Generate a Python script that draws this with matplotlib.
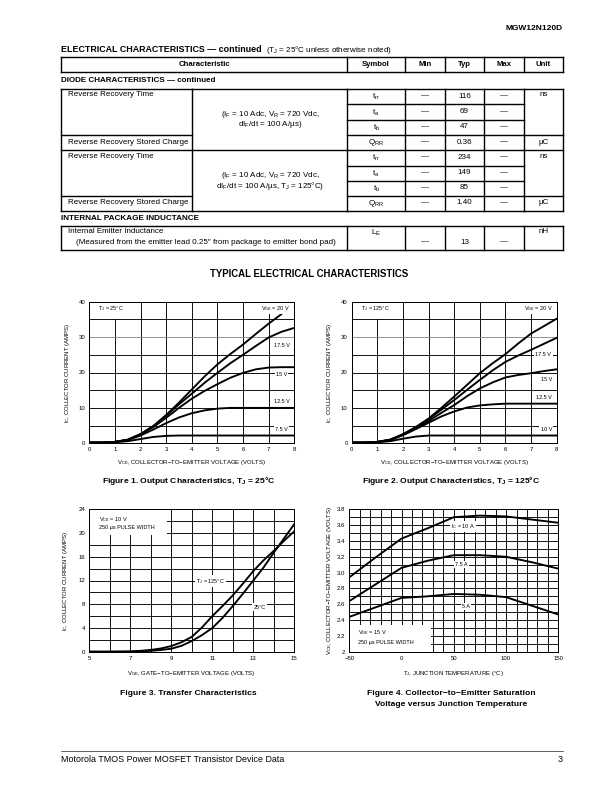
import matplotlib

matplotlib.use("Agg")
import matplotlib.pyplot as plt
from matplotlib import font_manager
from matplotlib.patches import Rectangle

# ---------------- data ----------------
# table
sym_rows = [r"t$_\mathregular{rr}$", r"t$_\mathregular{a}$", r"t$_\mathregular{b}$", r"Q$_\mathregular{RR}$",
            r"t$_\mathregular{rr}$", r"t$_\mathregular{a}$", r"t$_\mathregular{b}$", r"Q$_\mathregular{RR}$"]
typ_rows = ["116", "69", "47", "0.36", "234", "149", "85", "1.40"]

# Figure 1: output characteristics, TJ = 25C
vce = [0, 0.5, 1, 1.5, 2, 2.5, 3, 3.5, 4, 4.5, 5, 5.5, 6, 6.5, 7, 7.5, 8]
ic1_20 = [0.2, 0.2, 0.4, 1.0, 2.6, 4.9, 8.0, 11.5, 15.2, 18.9, 22.3, 25.2, 27.9, 30.9, 33.8, 36.5]
ic1_175 = [0.2, 0.2, 0.4, 1.0, 2.6, 4.8, 7.8, 11.0, 14.0, 17.1, 19.9, 22.6, 25.0, 27.5, 29.9, 31.5, 32.6]
ic1_15 = [0.2, 0.2, 0.4, 1.0, 2.5, 4.6, 7.2, 10.0, 12.6, 14.8, 16.7, 18.5, 19.9, 20.9, 21.4, 21.5, 21.5]
ic1_125 = [0.2, 0.2, 0.4, 0.9, 2.2, 3.9, 5.7, 7.3, 8.5, 9.3, 9.8, 10.0, 10.0, 10.0, 10.0, 10.0, 10.0]
ic1_75 = [0.2, 0.2, 0.3, 0.6, 1.2, 1.8, 2.1, 2.2, 2.2, 2.2, 2.2, 2.2, 2.2, 2.2, 2.2, 2.2, 2.2]

# Figure 2: output characteristics, TJ = 125C
ic2_20 = [0.2, 0.2, 0.4, 1.0, 2.6, 4.6, 7.0, 10.0, 13.2, 16.5, 19.8, 22.6, 25.2, 28.2, 31.0, 33.1, 35.2]
ic2_175 = [0.2, 0.2, 0.4, 1.0, 2.5, 4.4, 6.8, 9.5, 12.2, 15.1, 17.9, 20.6, 23.0, 24.8, 26.4, 28.1, 29.8]
ic2_15 = [0.2, 0.2, 0.4, 1.0, 2.4, 4.2, 6.3, 8.6, 10.8, 13.3, 15.5, 17.2, 18.6, 19.3, 19.8, 20.4, 20.9]
ic2_125 = [0.2, 0.2, 0.4, 0.9, 2.3, 4.0, 5.8, 7.6, 9.0, 10.1, 10.7, 11.0, 11.2, 11.2, 11.2, 11.2, 11.2]
ic2_10 = [0.2, 0.2, 0.3, 0.6, 1.3, 1.9, 2.2, 2.2, 2.2, 2.2, 2.2, 2.2, 2.2, 2.2, 2.2, 2.2, 2.2]

# Figure 3: transfer characteristics
vge = [5, 6, 7, 7.5, 8, 8.5, 9, 9.5, 10, 10.5, 11, 11.5, 12, 12.5, 13, 13.5, 14, 14.5, 15]
ic3_125 = [0, 0, 0.05, 0.15, 0.3, 0.55, 0.95, 1.6, 2.5, 4.1, 6.0, 7.7, 9.5, 11.5, 13.6, 15.4, 17.0, 18.7, 20.3]
ic3_25 = [0, 0, 0, 0.05, 0.15, 0.3, 0.5, 1.0, 1.8, 2.8, 4.0, 5.7, 7.7, 9.8, 12.0, 14.2, 16.7, 19.1, 21.5]

# Figure 4: VCE(sat) vs junction temperature
tj = [-50, -25, 0, 25, 50, 75, 100, 125, 150]
vsat_10 = [2.94, 3.19, 3.43, 3.56, 3.70, 3.72, 3.71, 3.67, 3.63]
vsat_75 = [2.64, 2.85, 3.06, 3.15, 3.22, 3.22, 3.20, 3.13, 3.05]
vsat_5 = [2.44, 2.56, 2.68, 2.70, 2.73, 2.72, 2.69, 2.58, 2.47]

# ---------------- style ----------------
plt.rcParams.update({
    "font.family": ["Liberation Sans", "DejaVu Sans"],
    "mathtext.fontset": "custom",
    "mathtext.rm": "Liberation Sans",
    "mathtext.it": "Liberation Sans",
    "mathtext.bf": "Liberation Sans:bold",
    "axes.linewidth": 1.0,
})
names = {f.name for f in font_manager.fontManager.ttflist}
NARROW = "Liberation Sans Narrow" if "Liberation Sans Narrow" in names else "Liberation Sans"

W, H = 612, 792
fig = plt.figure(figsize=(W / 72, H / 72), dpi=72)
page = fig.add_axes([0, 0, 1, 1])
page.set_xlim(0, W)
page.set_ylim(H, 0)
page.axis("off")
renderer = fig.canvas.get_renderer()


def ptext(x, y, s, size=5.5, width=None, **kw):
    kw.setdefault("va", "center")
    t = page.text(x, y, s, fontsize=size, **kw)
    if width is not None:
        # scale the font so the string spans the measured width
        bb = t.get_window_extent(renderer)
        t.set_fontsize(size * width / bb.width)
    return t


def hline(y, x0, x1, lw=1.4):
    page.plot([x0, x1], [y, y], color="k", lw=lw, solid_capstyle="projecting")


def vline(x, y0, y1, lw=1.4):
    page.plot([x, x], [y0, y1], color="k", lw=lw, solid_capstyle="projecting")


# ---------------- header / table ----------------
L, R = 61, 563
frac = [0.2617, 0.5707, 0.6848, 0.7648, 0.8424, 0.9216]
xc, xs, xmin, xtyp, xmax, xu = [L + f * (R - L) for f in frac]
cols = [L, xs, xmin, xtyp, xmax, xu, R]

ptext(R, 28, "MGW12N120D", size=9, width=57, ha="right", weight="bold", family="Liberation Sans")
ptext(L, 50, "ELECTRICAL CHARACTERISTICS — continued", size=9, width=201, weight="bold", family=NARROW)
ptext(265.5, 50.5, r"(T$_\mathregular{J}$ = 25°C unless otherwise noted)", size=6, width=127)

# header row
ht, hb = 57, 72
for x in cols:
    vline(x, ht, hb)
hline(ht, L, R)
hline(hb, L, R)
hdr = ptext((L + xs) / 2, (ht + hb) / 2, "Characteristic", size=7, width=52, ha="center", weight="bold",
            family=NARROW)
hsize = hdr.get_fontsize()
for (a, b), s in zip(zip(cols[1:-1], cols[2:]), ["Symbol", "Min", "Typ", "Max", "Unit"]):
    ptext((a + b) / 2, (ht + hb) / 2, s, size=hsize, ha="center", weight="bold", family=NARROW)

ptext(L, 80, "DIODE CHARACTERISTICS — continued", size=8, width=155, weight="bold", family=NARROW)

rows = [89, 104.3, 119.6, 135, 150, 165.5, 180.8, 196, 210.5]
top, bot = rows[0], rows[-1]
for x in [L, xc, xs, xmin, xtyp, xmax, xu, R]:
    vline(x, top, bot)
for y in rows:
    hline(y, xs, xu)
for y in [rows[0], rows[3], rows[4], rows[7], rows[8]]:
    hline(y, L, xc)
    hline(y, xu, R)
for y in [rows[0], rows[4], rows[8]]:
    hline(y, xc, xs)

ref = ptext(L + 6.5, rows[0] + 6, "Reverse Recovery Time", size=6, width=85)
bs = ref.get_fontsize()
ptext(L + 6.5, rows[3] + 7, "Reverse Recovery Stored Charge", size=bs)
ptext(L + 6.5, rows[4] + 6, "Reverse Recovery Time", size=bs)
ptext(L + 6.5, rows[7] + 7, "Reverse Recovery Stored Charge", size=bs)
for g in (0, 4):
    ptext((xu + R) / 2, rows[g] + 6, "ns", size=bs, ha="center")
    ptext((xu + R) / 2, rows[g + 3] + 7, "µC", size=bs, ha="center")

for i in range(8):
    yc = (rows[i] + rows[i + 1]) / 2 + 0.5
    ptext((xs + xmin) / 2, yc, sym_rows[i], size=bs, ha="center")
    ptext((xmin + xtyp) / 2, yc - 1, "—", size=bs, ha="center")
    ptext((xtyp + xmax) / 2, yc - 1, typ_rows[i], size=bs, ha="center")
    ptext((xmax + xu) / 2, yc - 1, "—", size=bs, ha="center")

cmid = (xc + xs) / 2
yc1 = (rows[0] + rows[4]) / 2
ptext(cmid, yc1 - 5, r"(I$_\mathregular{F}$ = 10 Adc, V$_\mathregular{R}$ = 720 Vdc,", size=bs, ha="center")
ptext(cmid, yc1 + 5.5, r"dI$_\mathregular{F}$/dt = 100 A/µs)", size=bs, ha="center")
yc2 = (rows[4] + rows[8]) / 2
ptext(cmid, yc2 - 5, r"(I$_\mathregular{F}$ = 10 Adc, V$_\mathregular{R}$ = 720 Vdc,", size=bs, ha="center")
ptext(cmid, yc2 + 5.5, r"dI$_\mathregular{F}$/dt = 100 A/µs, T$_\mathregular{J}$ = 125°C)", size=bs, ha="center")

ptext(L, 218, "INTERNAL PACKAGE INDUCTANCE", size=8, width=137, weight="bold", family=NARROW)
it, ib = 226, 250
for x in [L, xs, xmin, xtyp, xmax, xu, R]:
    vline(x, it, ib)
hline(it, L, R)
hline(ib, L, R)
ptext(L + 6.5, 231.5, "Internal Emitter Inductance", size=bs)
ptext(L + 14.5, 242, "(Measured from the emitter lead 0.25″ from package to emitter bond pad)", size=bs,
      family=["Liberation Sans", "DejaVu Sans"])
ptext((xs + xmin) / 2, 233, r"L$_\mathregular{E}$", size=bs, ha="center")
ptext((xmin + xtyp) / 2, 242, "—", size=bs, ha="center")
ptext((xtyp + xmax) / 2, 242, "13", size=bs, ha="center")
ptext((xmax + xu) / 2, 242, "—", size=bs, ha="center")
ptext((xu + R) / 2, 231.5, "nH", size=bs, ha="center")

ptext(309, 274, "TYPICAL ELECTRICAL CHARACTERISTICS", size=9.5, width=200, ha="center", weight="bold",
      family="Liberation Sans")

# footer
hline(751, L, R, lw=0.6)
foot = ptext(L, 760, "Motorola TMOS Power MOSFET Transistor Device Data", size=8, width=222)
ptext(R, 760, "3", size=foot.get_fontsize(), ha="right")


# ---------------- charts ----------------
def px_axes(l, t, r, b):
    return fig.add_axes([l / W, 1 - b / H, (r - l) / W, (b - t) / H])


def setup(ax, xlim, ylim, xgrid, ygrid, xticks, xlabels, yticks, ylabels, gray=()):
    ax.set_xlim(*xlim)
    ax.set_ylim(*ylim)
    for x in xgrid:
        ax.axvline(x, color="k", lw=0.9, zorder=1)
    for y in ygrid:
        ax.axhline(y, color="#8a8a8a" if y in gray else "k", lw=0.9, zorder=1)
    ax.set_xticks(xticks)
    ax.set_xticklabels(xlabels)
    ax.set_yticks(yticks)
    ax.set_yticklabels(ylabels)
    ax.tick_params(length=0, pad=4, labelsize=6)
    for sp in ax.spines.values():
        sp.set_zorder(6)
        sp.set_linewidth(1.0)


def mask(ax, x0, y0, x1, y1):
    ax.add_patch(Rectangle((x0, y0), x1 - x0, y1 - y0, facecolor="white", edgecolor="none", zorder=2))


def lab(ax, x, y, s, **kw):
    kw.setdefault("ha", "center")
    ax.text(x, y, s, fontsize=5.5, va="center", zorder=5,
            bbox=dict(facecolor="white", edgecolor="none", pad=1.2), **kw)


CURVE = dict(color="k", lw=1.9, zorder=3, solid_joinstyle="round")
AXFS = 6

# Figure 1
ax1 = px_axes(89.3, 301.7, 294.3, 443.3)
setup(ax1, (0, 8), (0, 40), range(1, 8), range(5, 40, 5), range(9), [str(i) for i in range(9)],
      range(0, 41, 10), [str(i) for i in range(0, 41, 10)], gray=(30,))
mask(ax1, 0, 35, 2, 40)
ax1.plot(vce[:len(ic1_20)], ic1_20, **CURVE)
ax1.plot(vce, ic1_175, **CURVE)
ax1.plot(vce, ic1_15, **CURVE)
ax1.plot(vce, ic1_125, **CURVE)
ax1.plot(vce, ic1_75, **CURVE)
lab(ax1, 0.35, 38.1, r"T$_\mathregular{J}$ = 25°C", ha="left")
lab(ax1, 7.25, 38.1, r"V$_\mathregular{GE}$ = 20 V")
lab(ax1, 7.5, 27.5, "17.5 V")
lab(ax1, 7.5, 19.5, "15 V")
lab(ax1, 7.5, 11.9, "12.5 V")
lab(ax1, 7.5, 3.95, "7.5 V")
ax1.set_xlabel(r"V$_\mathregular{CE}$, COLLECTOR−TO−EMITTER VOLTAGE (VOLTS)", fontsize=AXFS, labelpad=6)
ax1.set_ylabel(r"I$_\mathregular{C}$, COLLECTOR CURRENT (AMPS)", fontsize=AXFS, labelpad=7)
cap = ptext(188.5, 481, r"Figure 1. Output Characteristics, T$_\mathregular{J}$ = 25°C", size=8, width=173,
            ha="center", weight="bold")
cs = cap.get_fontsize()

# Figure 2
ax2 = px_axes(351.7, 301.7, 556.7, 443.3)
setup(ax2, (0, 8), (0, 40), range(1, 8), range(5, 40, 5), range(9), [str(i) for i in range(9)],
      range(0, 41, 10), [str(i) for i in range(0, 41, 10)], gray=(30,))
mask(ax2, 0, 35, 2, 40)
ax2.plot(vce, ic2_20, **CURVE)
ax2.plot(vce, ic2_175, **CURVE)
ax2.plot(vce, ic2_15, **CURVE)
ax2.plot(vce, ic2_125, **CURVE)
ax2.plot(vce, ic2_10, **CURVE)
lab(ax2, 0.35, 38.1, r"T$_\mathregular{J}$ = 125°C", ha="left")
lab(ax2, 7.29, 38.1, r"V$_\mathregular{GE}$ = 20 V")
lab(ax2, 7.48, 25.2, "17.5 V")
lab(ax2, 7.59, 18.1, "15 V")
lab(ax2, 7.48, 13.0, "12.5 V")
lab(ax2, 7.59, 3.95, "10 V")
ax2.set_xlabel(r"V$_\mathregular{CE}$, COLLECTOR−TO−EMITTER VOLTAGE (VOLTS)", fontsize=AXFS, labelpad=6)
ax2.set_ylabel(r"I$_\mathregular{C}$, COLLECTOR CURRENT (AMPS)", fontsize=AXFS, labelpad=7)
ptext(450.8, 481, r"Figure 2. Output Characteristics, T$_\mathregular{J}$ = 125°C", size=cs, ha="center",
      weight="bold")

# Figure 3
ax3 = px_axes(89.3, 509.3, 294.3, 651.7)
setup(ax3, (5, 15), (0, 24), range(6, 15), range(2, 24, 2), range(5, 16, 2), [str(i) for i in range(5, 16, 2)],
      range(0, 25, 4), [str(i) for i in range(0, 25, 4)])
mask(ax3, 5, 19.7, 8.8, 24)
ax3.plot(vge, ic3_125, **CURVE)
ax3.plot(vge, ic3_25, **CURVE)
ax3.text(5.45, 22.3, r"V$_\mathregular{CE}$ = 10 V", fontsize=5.5, va="center", zorder=5)
ax3.text(5.45, 20.9, "250 µs PULSE WIDTH", fontsize=5.5, va="center", zorder=5)
lab(ax3, 10.9, 11.9, r"T$_\mathregular{J}$ = 125°C")
lab(ax3, 13.3, 7.5, "25°C")
ax3.set_xlabel(r"V$_\mathregular{GE}$, GATE−TO−EMITTER VOLTAGE (VOLTS)", fontsize=AXFS, labelpad=8)
ax3.set_ylabel(r"I$_\mathregular{C}$, COLLECTOR CURRENT (AMPS)", fontsize=AXFS, labelpad=9)
ptext(188.5, 693.3, "Figure 3. Transfer Characteristics", size=cs, ha="center", weight="bold")

# Figure 4
ax4 = px_axes(349.3, 509.3, 558.3, 651.7)
setup(ax4, (-50, 150), (2, 3.8), range(-40, 150, 10), [2 + 0.1 * k for k in range(1, 18)],
      [-50, 0, 50, 100, 150], ["−50", "0", "50", "100", "150"],
      [2 + 0.2 * k for k in range(10)], ["2", "2.2", "2.4", "2.6", "2.8", "3.0", "3.2", "3.4", "3.6", "3.8"])
mask(ax4, -50, 2, 28, 2.34)
ax4.plot(tj, vsat_10, **CURVE)
ax4.plot(tj, vsat_75, **CURVE)
ax4.plot(tj, vsat_5, **CURVE)
ax4.text(-42, 2.245, r"V$_\mathregular{GE}$ = 15 V", fontsize=5.5, va="center", zorder=5)
ax4.text(-42, 2.12, "250 µs PULSE WIDTH", fontsize=5.5, va="center", zorder=5)
lab(ax4, 59, 3.58, r"I$_\mathregular{C}$ = 10 A")
lab(ax4, 57.6, 3.10, "7.5 A")
lab(ax4, 61.7, 2.57, "5 A")
ax4.set_xlabel(r"T$_\mathregular{J}$, JUNCTION TEMPERATURE (°C)", fontsize=AXFS, labelpad=8)
ax4.set_ylabel(r"V$_\mathregular{CE}$, COLLECTOR−TO−EMITTER VOLTAGE (VOLTS)", fontsize=AXFS, labelpad=3)
ptext(450.8, 693.3, "Figure 4. Collector−to−Emitter Saturation", size=cs, ha="center", weight="bold")
ptext(450.8, 705, "Voltage versus Junction Temperature", size=cs, ha="center", weight="bold")

fig.savefig("out.png", dpi=72, facecolor="white")
